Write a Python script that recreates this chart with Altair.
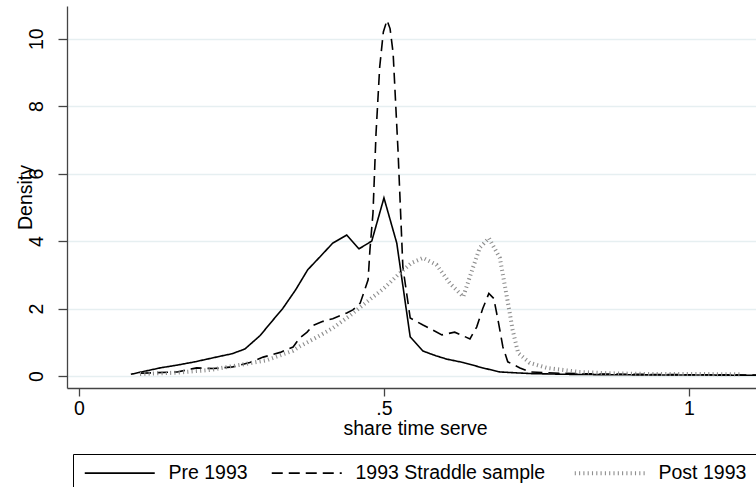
import altair as alt
import pandas as pd

# ---- data ----
series_names = ["Pre 1993", "1993 Straddle sample", "Post 1993"]

pre_x = [0.085, 0.11, 0.133, 0.16, 0.19, 0.21, 0.23, 0.251, 0.272, 0.297, 0.313, 0.334,
         0.355, 0.375, 0.396, 0.416, 0.439, 0.459, 0.48, 0.5, 0.521, 0.543, 0.564, 0.585,
         0.603, 0.63, 0.662, 0.69, 0.72, 0.744, 0.8, 0.854, 0.95, 1.018, 1.11]
pre_y = [0.05, 0.15, 0.24, 0.32, 0.42, 0.5, 0.58, 0.66, 0.8, 1.2, 1.55, 2.0,
         2.55, 3.15, 3.55, 3.94, 4.18, 3.77, 4.0, 5.28, 3.94, 1.16, 0.74, 0.6,
         0.5, 0.4, 0.24, 0.12, 0.09, 0.07, 0.05, 0.04, 0.03, 0.03, 0.02]

str_x = [0.1, 0.13, 0.161, 0.193, 0.22, 0.252, 0.28, 0.302, 0.33, 0.351, 0.362, 0.374,
         0.384, 0.4, 0.416, 0.439, 0.449, 0.461, 0.474, 0.477, 0.482, 0.487, 0.493, 0.499,
         0.505, 0.51, 0.515, 0.523, 0.531, 0.543, 0.564, 0.595, 0.616, 0.641, 0.652, 0.662,
         0.672, 0.68, 0.687, 0.695, 0.703, 0.723, 0.739, 0.789, 0.85, 0.936, 1.02, 1.11]
str_y = [0.08, 0.1, 0.12, 0.24, 0.22, 0.27, 0.4, 0.56, 0.7, 0.86, 1.13, 1.3,
         1.5, 1.62, 1.7, 1.87, 1.96, 2.16, 2.85, 3.74, 4.83, 7.2, 9.16, 10.2,
         10.55, 10.3, 9.58, 6.7, 3.23, 1.72, 1.51, 1.22, 1.3, 1.1, 1.45, 2.0,
         2.45, 2.3, 1.66, 0.86, 0.42, 0.24, 0.12, 0.08, 0.06, 0.045, 0.035, 0.03]

post_x = [0.1, 0.161, 0.215, 0.264, 0.308, 0.351, 0.362, 0.39, 0.416, 0.445, 0.472, 0.5,
          0.526, 0.545, 0.564, 0.586, 0.608, 0.63, 0.641, 0.657, 0.672, 0.69, 0.703, 0.711,
          0.72, 0.739, 0.767, 0.82, 0.87, 0.93, 1.0, 1.087]
post_y = [0.06, 0.1, 0.18, 0.33, 0.47, 0.75, 0.88, 1.15, 1.42, 1.8, 2.2, 2.6,
          3.05, 3.35, 3.5, 3.3, 2.75, 2.35, 2.95, 3.8, 4.09, 3.5, 2.2, 1.36,
          0.68, 0.39, 0.24, 0.12, 0.08, 0.06, 0.06, 0.05]

x_ticks = [0, 0.5, 1]
y_ticks = [0, 2, 4, 6, 8, 10]

rows = []
for name, xs, ys in zip(series_names, [pre_x, str_x, post_x], [pre_y, str_y, post_y]):
    for a, b in zip(xs, ys):
        rows.append({"series": name, "x": a, "y": b})
df = pd.DataFrame(rows)

FONT = "Liberation Sans"
FS = 19.5

# long horizontal stroke symbol: unit square [-1,1] maps to sqrt(size)
legend = alt.Legend(
    orient="none", legendX=6, legendY=448, direction="horizontal", title=None,
    symbolType="M-1,0H9", symbolSize=196, labelFontSize=FS, labelFont=FONT,
    labelColor="black", strokeColor="black", padding=9, columnPadding=20,
    labelOffset=67, labelLimit=0, symbolOffset=0, symbolFillColor="transparent",
)

chart = alt.Chart(df).mark_line(clip=True).encode(
    x=alt.X("x:Q",
            scale=alt.Scale(domain=[-0.0197, 1.11], nice=False, zero=False),
            axis=alt.Axis(values=x_ticks, title="share time serve",
                          labelExpr="datum.value == 0 ? '0' : (datum.value == 1 ? '1' : '.5')",
                          grid=False, tickSize=8, labelPadding=3, titlePadding=2,
                          titleX=348)),
    y=alt.Y("y:Q",
            scale=alt.Scale(domain=[-0.356, 10.97], nice=False, zero=False),
            axis=alt.Axis(values=y_ticks, title="Density", grid=True,
                          labelAngle=270, labelAlign="center", labelBaseline="bottom",
                          tickSize=9, labelPadding=12,
                          titleAngle=270, titleAlign="center", titleBaseline="middle",
                          titleX=-42, titleY=191)),
    color=alt.Color("series:N",
                    scale=alt.Scale(domain=series_names, range=["#000000", "#000000", "#8e8e8e"]),
                    sort=series_names, legend=legend),
    strokeDash=alt.StrokeDash("series:N",
                              scale=alt.Scale(domain=series_names, range=[[1, 0], [11, 6], [1.1, 3.2]]),
                              sort=series_names, legend=legend),
    strokeWidth=alt.StrokeWidth("series:N",
                                scale=alt.Scale(type="ordinal", domain=series_names,
                                                range=[1.6, 1.6, 4.0]),
                                sort=series_names, legend=legend),
).properties(
    width=689, height=382,
    padding={"left": 67, "top": 6, "right": 0, "bottom": 99},
    autosize=alt.AutoSizeParams(type="none"),
).configure_view(stroke=None).configure_axis(
    labelFont=FONT, titleFont=FONT, labelFontSize=FS, titleFontSize=FS,
    titleFontWeight="normal", labelColor="black", titleColor="black",
    domainColor="#444444", tickColor="#444444", domainWidth=1.3, tickWidth=1.3,
    gridColor="#e6eff1", gridWidth=1.5,
)

chart.save("out.html", embed_options={"renderer": "svg", "actions": False})
